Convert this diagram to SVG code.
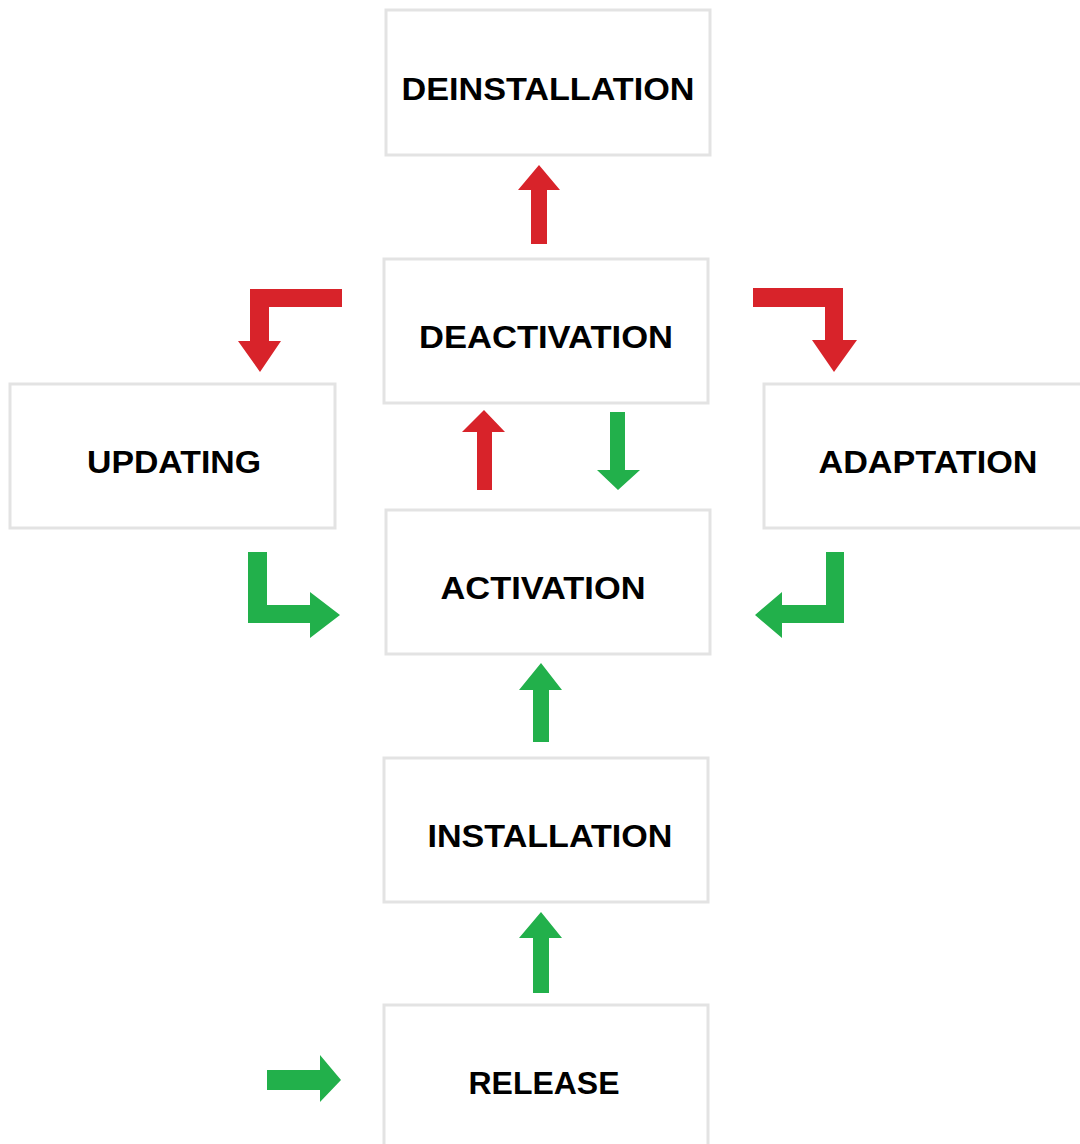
<svg xmlns="http://www.w3.org/2000/svg" width="1080" height="1144" viewBox="0 0 1080 1144">
<style>
.box{fill:#fff;stroke:#e3e3e3;stroke-width:3}
.lbl{font-family:"Liberation Sans",Arial,sans-serif;font-weight:bold;font-size:32px;fill:#000;text-anchor:middle}
.red{fill:#d8232a}
.green{fill:#22b04b}
</style>
<rect width="1080" height="1144" fill="#fff"/>
<g id="deinstallation"><rect class="box" x="386" y="10" width="324" height="145"/><text class="lbl" x="548" y="100" textLength="293" lengthAdjust="spacingAndGlyphs">DEINSTALLATION</text></g>
<g id="deactivation"><rect class="box" x="384" y="259" width="324" height="144"/><text class="lbl" x="546" y="348" textLength="254" lengthAdjust="spacingAndGlyphs">DEACTIVATION</text></g>
<g id="updating"><rect class="box" x="10" y="384" width="325" height="144"/><text class="lbl" x="174" y="473" textLength="174" lengthAdjust="spacingAndGlyphs">UPDATING</text></g>
<g id="adaptation"><rect class="box" x="764" y="384" width="330" height="144"/><text class="lbl" x="928" y="473" textLength="219" lengthAdjust="spacingAndGlyphs">ADAPTATION</text></g>
<g id="activation"><rect class="box" x="386" y="510" width="324" height="144"/><text class="lbl" x="543" y="599" textLength="205" lengthAdjust="spacingAndGlyphs">ACTIVATION</text></g>
<g id="installation"><rect class="box" x="384" y="758" width="324" height="144"/><text class="lbl" x="550" y="847" textLength="245" lengthAdjust="spacingAndGlyphs">INSTALLATION</text></g>
<g id="release"><rect class="box" x="384" y="1005" width="324" height="150"/><text class="lbl" x="544" y="1094" textLength="151" lengthAdjust="spacingAndGlyphs">RELEASE</text></g>
<g id="connectors">
<polygon class="red" points="531,244 547,244 547,190 560,190 539,165 518,190 531,190"/>
<polygon class="red" points="342,289 342,307 269,307 269,341 281,341 260,372 238,341 250,341 250,289"/>
<polygon class="red" points="753,288 843,288 843,340 857,340 834,372 812,340 825,340 825,307 753,307"/>
<polygon class="red" points="477,490 492,490 492,432 505,432 484,410 462,432 477,432"/>
<polygon class="green" points="610,412 625,412 625,470 640,470 618,490 597,470 610,470"/>
<polygon class="green" points="248,552 267,552 267,605 310,605 310,592 340,615 310,638 310,623 248,623"/>
<polygon class="green" points="826,552 844,552 844,623 782,623 782,638 755,615 782,592 782,605 826,605"/>
<polygon class="green" points="533,742 549,742 549,690 562,690 541,663 519,690 533,690"/>
<polygon class="green" points="533,993 549,993 549,938 562,938 541,912 519,938 533,938"/>
<polygon class="green" points="267,1070 320,1070 320,1055 341,1080 320,1102 320,1090 267,1090"/>
</g>
</svg>
